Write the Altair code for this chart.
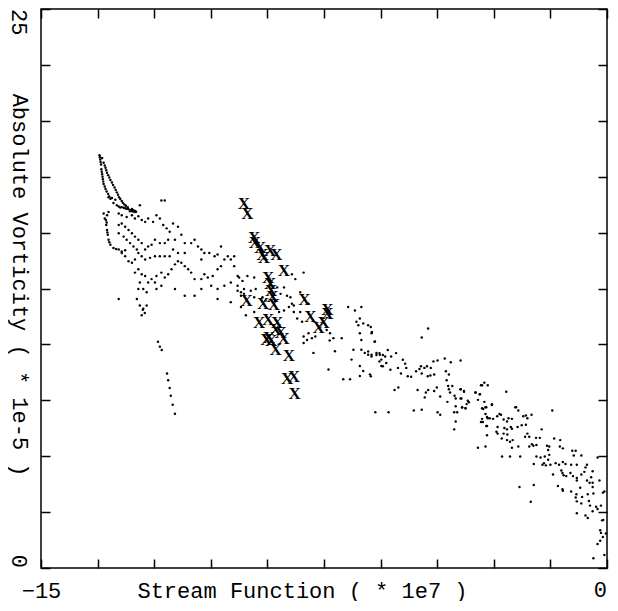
import altair as alt
import pandas as pd

# ---- data (Stream Function *1e7, Absolute Vorticity *1e-5) ----
horn = [(-13.45,18.46),(-13.43,18.27),(-13.41,18.05),(-13.40,17.83),(-13.38,17.61),(-13.36,17.39),
        (-13.34,17.17),(-13.29,16.95),(-13.22,16.73),(-13.16,16.51),(-13.08,16.32),(-12.99,16.22),
        (-12.86,16.14),(-12.73,16.07),(-12.59,16.00),(-12.51,15.97),
        (-13.38,18.34),(-13.34,18.12),(-13.29,17.90),(-13.25,17.68),(-13.19,17.46),(-13.12,17.24),
        (-13.05,17.02),(-12.99,16.80),(-12.93,16.58),(-12.86,16.41),(-12.79,16.26),(-12.70,16.14),
        (-12.59,16.06),(-12.55,16.00),(-12.94,16.17),(-12.81,16.11),(-12.68,16.04),(-12.64,15.95),
        (-12.52,15.92),(-13.21,16.58),(-13.12,16.55),(-13.03,16.47),
        (-13.44,18.37),(-13.42,18.16),(-13.39,17.72),(-13.37,17.50),(-13.35,17.28),(-13.31,17.06),
        (-13.26,16.84),(-13.19,16.62),(-13.31,18.00),(-13.27,17.79),(-13.22,17.57),(-13.16,17.35),
        (-13.09,17.13),(-13.02,16.91),(-12.96,16.69),(-12.90,16.50),(-12.83,16.33),(-12.75,16.20),
        (-12.90,16.12),(-12.77,16.09),(-12.62,16.00),(-12.57,15.94),(-12.48,15.93)]

loop = [(-13.21,15.92),(-13.25,15.78),(-13.28,15.56),(-13.27,15.34),(-13.25,15.12),(-13.23,14.90),
        (-13.21,14.68),(-13.16,14.46),(-13.08,14.31),(-12.94,14.24),(-12.86,14.16),(-12.77,14.21),
        (-13.31,15.63),(-13.34,15.85),(-13.26,15.45),(-13.24,15.01),(-13.19,14.57),(-13.01,14.27)]

left_cloud = [(-12.94,15.85),(-12.86,15.78),(-12.73,15.70),(-12.59,15.78),(-12.51,15.63),(-12.42,15.73),
        (-12.33,15.56),(-12.24,15.48),(-12.16,15.63),(-12.03,15.48),(-11.94,15.78),(-11.85,15.63),
        (-11.76,15.34),(-11.67,15.19),(-11.59,15.04),(-11.50,15.41),(-11.37,15.26),(-11.28,14.90),
        (-11.19,14.53),(-11.45,14.68),(-11.63,14.68),(-11.72,14.53),(-11.85,14.53),(-11.98,14.68),
        (-12.07,14.46),(-12.16,14.38),(-12.24,14.24),(-12.33,14.53),(-12.42,14.68),(-12.51,14.82),
        (-12.59,14.97),(-12.68,15.12),(-12.77,15.26),(-12.86,15.41),(-12.94,15.34),(-12.94,14.97),
        (-12.81,14.82),(-12.73,14.68),(-12.64,14.53),(-12.55,14.38),(-12.46,14.24),(-12.42,14.09),
        (-12.33,13.94),(-12.51,13.80),(-12.59,13.65),(-12.68,13.72),(-12.77,13.94),(-12.86,14.09),
        (-12.24,13.80),(-12.11,13.87),(-11.98,13.94),(-11.85,13.94),(-11.72,13.94),(-11.59,13.94),
        (-11.50,14.24),(-11.37,14.09),(-11.19,14.09),(-11.02,14.53),(-10.93,14.68),(-10.84,14.38),
        (-10.75,14.24),(-10.67,14.09),(-10.54,14.09),(-10.40,13.94),(-10.32,14.02),(-10.23,14.38),
        (-10.14,13.80),(-10.05,13.94),(-10.32,13.36),(-10.23,13.50),(-10.45,13.06),(-10.58,12.99),
        (-10.67,13.14),(-10.75,12.92),(-10.93,12.92),(-11.02,13.21),(-11.10,13.36),(-11.19,13.50),
        (-11.28,13.65),(-11.37,13.72),(-11.45,13.58),(-11.54,13.36),(-11.63,13.14),(-11.72,12.99),
        (-11.81,13.21),(-11.94,13.06),(-12.07,12.92),(-12.16,12.77),(-12.24,13.06),(-12.33,13.14),
        (-12.42,13.36),(-12.51,13.21),(-12.38,12.77),(-12.29,12.48),(-12.20,12.33),(-12.42,12.48),
        (-12.46,12.03),(-12.38,11.74),(-12.29,11.60),(-12.20,11.74),(-12.33,11.30),(-12.94,12.03),
        (-11.98,12.77),(-11.94,12.48),(-11.81,12.62),(-11.45,12.48),(-11.19,12.18),(-10.93,12.18),
        (-10.75,12.48),(-10.49,12.62),(-10.32,12.48),(-10.14,12.62),(-9.97,12.77),(-9.79,12.62),
        (-10.32,12.03),(-9.97,11.89),(-9.70,12.18),(-9.62,12.48),(-9.79,13.06),(-9.88,13.50),
        (-9.97,13.80),(-10.75,13.80),(-11.81,16.44),(-11.72,16.44),(-12.38,16.22),
        (-12.30,11.55),(-12.25,11.40)]

outliers = [(-11.90,10.12),(-11.85,9.90),(-11.80,9.75),(-11.66,8.70),(-11.63,8.40),(-11.59,8.05),
        (-11.56,7.70),(-11.51,7.30),(-11.45,6.90)]

mid_cloud = [(-9.88,13.94),(-9.75,12.99),(-9.66,12.84),(-9.53,13.06),(-9.35,12.99),(-9.79,12.40),
        (-9.70,12.33),(-9.62,12.26),(-9.44,12.40),(-9.31,12.48),(-9.35,12.11),(-9.70,11.67),
        (-9.57,11.30),(-9.35,11.45),(-9.13,12.11),(-9.05,11.96),(-8.65,12.26),(-8.56,12.55),
        (-8.48,12.18),(-8.35,13.14),(-8.26,12.92),(-8.04,13.21),(-8.69,11.45),(-8.56,11.52),
        (-8.43,11.67),(-8.35,11.82),(-8.30,11.45),(-8.21,11.16),(-8.08,11.01),(-8.30,11.74),
        (-8.13,12.33),(-7.91,11.82),(-8.04,10.35),(-7.95,10.20),(-7.82,10.28),(-7.73,10.35),
        (-7.91,10.50),(-7.78,9.62),(-8.04,10.06),(-7.43,10.64),(-7.34,10.50),(-7.35,10.17),
        (-7.25,10.28),(-7.21,9.69),(-7.03,10.28),(-7.38,8.88),(-6.99,8.44),(-6.81,8.44),
        (-6.86,11.67),(-6.68,11.52),(-6.51,11.67),(-6.64,11.01),(-6.55,11.16),(-6.59,10.86),
        (-6.46,10.94),(-6.33,10.86),(-6.24,10.50),(-6.55,10.50),(-6.51,10.20),(-6.15,10.13),
        (-6.72,9.76),(-6.51,9.76),(-6.42,9.62),(-6.33,9.54),(-6.24,9.54),(-6.11,9.62),
        (-6.02,9.54),(-5.98,9.32),(-6.77,9.32),(-6.55,9.03),(-6.46,8.81),(-6.55,8.59),
        (-6.28,8.66),(-5.98,9.03),(-8.74,12.55),(-8.39,12.11),(-8.13,11.45)]

right_cloud = [(-6.26,10.78),(-6.23,10.56),(-6.16,10.12),(-4.74,10.71),(-4.91,10.31),
        (-6.33,9.68),(-6.24,9.46),(-6.11,9.53),(-6.03,9.61),(-5.94,9.53),(-5.88,9.46),(-5.81,9.75),
        (-5.72,9.46),(-5.59,9.61),(-6.03,9.24),(-5.94,9.02),(-5.85,9.17),(-5.74,8.87),(-6.26,8.58),
        (-5.54,8.95),(-5.41,9.31),(-5.35,9.14),(-5.32,8.95),(-5.46,8.70),(-5.28,8.58),(-5.19,8.55),
        (-5.06,8.80),(-4.97,8.90),(-4.93,9.02),(-4.84,8.95),(-4.77,9.02),(-4.67,8.95),(-4.91,8.70),
        (-4.75,8.58),(-4.68,8.61),(-4.58,8.65),(-4.60,9.24),(-4.49,9.28),(-4.30,9.37),(-4.14,9.20),
        (-3.88,9.28),(-4.27,8.80),(-4.19,8.65),(-4.25,8.40),(-5.63,7.96),(-5.53,8.07),(-5.02,7.96),
        (-4.80,7.85),(-4.74,7.96),(-4.83,7.63),(-4.58,7.92),(-4.51,8.07),(-4.42,7.67),(-4.21,8.14),
        (-4.19,7.99),(-4.16,7.85),(-4.10,8.14),(-4.04,7.70),(-4.23,7.43),(-4.01,7.58),(-3.88,7.99),
        (-3.79,7.88),(-3.88,7.58),(-3.72,7.33),(-3.69,7.48),(-4.01,7.23),(-3.84,7.18),(-3.75,7.14),
        (-3.48,7.85),(-3.37,7.77),(-3.31,8.17),(-3.25,8.29),(-3.16,8.17),(-2.67,7.88),(-3.42,7.52),
        (-3.25,7.43),(-3.05,7.32),(-3.31,7.14),(-3.22,7.19),(-6.14,6.97),(-5.79,6.97),(-5.12,7.04),
        (-4.91,7.08),(-4.49,6.97),(-4.42,6.85),(-4.05,6.97),(-4.01,6.55),(-4.05,6.20),(-3.22,6.89),
        (-3.18,6.75),(-3.11,6.70),(-3.31,6.67),(-2.91,6.79),(-2.85,6.89),(-2.74,6.64),(-2.65,6.55),
        (-2.61,6.70),(-2.52,6.67),(-2.43,7.19),(-3.34,6.53),(-3.20,6.35),(-2.90,6.31),(-2.72,6.26),
        (-2.55,6.31),(-2.93,6.09)]

far_right = [(-3.88,7.99),(-3.79,7.92),(-3.86,7.58),(-3.84,7.19),(-3.75,7.14),(-3.66,7.41),(-3.97,6.97),
        (-3.49,7.85),(-3.37,7.77),(-3.34,8.17),(-3.20,7.19),(-3.28,7.11),(-3.05,7.29),(-2.35,7.04),
        (-3.29,6.53),(-3.16,6.70),(-3.02,6.67),(-3.18,6.35),(-2.81,6.85),(-2.41,7.19),(-2.65,6.20),
        (-2.90,6.01),(-2.74,6.01),(-2.64,5.97),(-2.52,6.23),(-2.37,6.31),(-2.26,6.38),(-2.22,6.79),
        (-2.15,6.82),(-2.11,6.70),(-2.00,6.85),(-2.15,6.41),(-3.18,5.94),(-2.79,5.79),(-2.65,5.72),
        (-2.57,5.65),(-2.50,5.72),(-2.52,5.38),(-2.35,5.43),(-2.17,5.87),(-2.11,6.01),(-2.06,5.87),
        (-1.88,5.82),(-1.78,5.82),(-1.73,6.20),(-1.45,7.04),(-1.99,5.53),(-1.95,5.47),(-1.87,5.50),
        (-3.42,5.38),(-3.22,5.43),(-2.06,5.43),(-1.59,5.47),(-1.53,5.43),(-1.56,5.28),(-1.87,4.99),
        (-1.76,4.94),(-1.65,4.99),(-1.53,5.06),(-1.56,4.84),(-1.40,5.79),(-1.24,5.72),(-1.25,5.43),
        (-1.17,5.35),(-0.92,5.24),(-0.83,5.24),(-0.68,5.03),(-0.88,5.03),(-2.78,4.99),(-2.57,4.99),
        (-2.30,4.99),(-1.94,4.65),(-1.71,4.62),(-1.67,4.69),(-1.62,4.59),(-1.50,4.62),(-1.36,4.69),
        (-1.27,4.62),(-1.17,4.74),(-1.10,4.65),(-0.95,4.62),(-0.80,4.62),(-0.53,4.62),(-0.57,4.50),
        (-0.25,4.94),(-1.43,4.18),(-1.21,4.36),(-1.18,4.25),(-1.15,4.15),(-1.08,4.11),(-0.97,4.25),
        (-0.90,4.11),(-0.80,4.03),(-0.68,4.18),(-0.60,4.30),(-0.38,4.33),(-0.80,3.91),(-0.71,3.59),
        (-0.53,3.91),(-0.46,3.81),(-0.42,4.06),(-0.38,3.81),(-0.20,3.91),(-0.38,3.62),(-1.30,3.67),
        (-1.18,3.52),(-1.17,3.45),(-0.95,3.42),(-0.81,3.30),(-0.83,3.15),(-0.66,3.18),(-0.51,3.30),
        (-0.36,3.33),(-0.11,3.37),(-0.07,3.42),(-2.32,3.62),(-1.94,3.71),(-2.02,2.96),(-0.80,2.98),
        (-0.68,2.89),(-0.48,3.00),(-0.45,2.79),(-0.29,2.74),(-0.25,2.64),(-0.16,2.79),(-0.80,2.45),
        (-0.57,2.35),(-0.51,2.24),(-0.38,2.54),(-0.13,2.13),(-0.10,2.15),(-0.18,1.69),(-0.16,1.57),
        (-0.11,1.39),(-0.18,1.22),(-0.25,1.07),(-0.03,1.54),(-0.36,0.44),(-0.07,0.58)]

crosses = [(-9.62,16.29),(-9.53,15.85),(-9.35,14.78),(-9.33,14.55),(-9.19,14.30),(-9.13,14.02),
        (-9.09,13.87),(-8.93,14.16),(-8.76,14.02),(-8.56,13.28),(-8.98,12.99),(-8.93,12.70),
        (-8.90,12.40),(-8.87,12.11),(-8.83,11.74),(-9.55,11.96),(-9.11,11.82),(-8.02,12.00),
        (-7.86,11.23),(-7.41,11.52),(-7.41,11.38),(-7.51,10.96),(-7.64,10.72),(-9.22,10.96),
        (-8.98,11.08),(-8.74,10.94),(-8.78,10.64),(-8.65,10.50),(-8.57,10.23),(-8.96,10.27),
        (-8.90,10.13),(-9.03,10.20),(-8.78,9.76),(-8.43,9.47),(-8.48,8.47),(-8.30,8.56),(-8.28,7.78)]

x_ticks = [-15, -13.5, -12, -10.5, -9, -7.5, -6, -4.5, -3, -1.5, 0]
y_ticks = [0, 2.5, 5, 7.5, 10, 12.5, 15, 17.5, 20, 22.5, 25]
x_title = "Stream Function ( * 1e7 )"
y_title = "Absolute Vorticity ( * 1e-5 )"

# ---- build tables ----
all_dots = horn + loop + left_cloud + outliers + mid_cloud + right_cloud + far_right
df_dots = pd.DataFrame(all_dots, columns=["x", "y"])
df_cross = pd.DataFrame(crosses, columns=["x", "y"])

FONT = "Liberation Mono"
FS = 22
W, H = 566, 559

xs = alt.Scale(domain=[-15, 0], nice=False, zero=False)
ys = alt.Scale(domain=[0, 25], nice=False, zero=False)

tick_common = dict(tickSize=9, offset=-9, domain=False, grid=False,
                   tickColor="black", tickWidth=1.5)

dots = alt.Chart(df_dots).mark_circle(size=6, color="black", opacity=1).encode(
    x=alt.X("x:Q", scale=xs, title=x_title,
            axis=alt.Axis(orient="bottom", values=x_ticks,
                          labelExpr="datum.value == -15 ? datum.label : ''",
                          labelFlush=False,
                          labelPadding=12, labelFont=FONT, labelFontSize=FS, labelColor="black",
                          titleFont=FONT, titleFontSize=FS, titleFontWeight="normal", titleColor="black",
                          titleX=261, titleY=21, titleBaseline="top", titleAlign="center",
                          **tick_common)),
    y=alt.Y("y:Q", scale=ys, title=y_title,
            axis=alt.Axis(orient="left", values=y_ticks, labels=False,
                          titleFont=FONT, titleFontSize=FS, titleFontWeight="normal", titleColor="black",
                          titleAngle=90, titleX=-31, titleY=H * 0.493, titleAlign="center",
                          titleBaseline="middle", **tick_common)),
)

xmarks = alt.Chart(df_cross).mark_text(text="X", font="Liberation Serif", fontWeight="bold",
                                       fontSize=17, color="black", baseline="middle").encode(
    x=alt.X("x:Q", scale=xs, title=None,
            axis=alt.Axis(orient="top", values=x_ticks, labels=False, **tick_common)),
    y=alt.Y("y:Q", scale=ys, title=None,
            axis=alt.Axis(orient="right", values=y_ticks, labels=False, **tick_common)),
)

lab_top = alt.Chart(pd.DataFrame({"v": [25], "t": ["25"]})).mark_text(
    angle=90, align="left", baseline="middle", font=FONT, fontSize=FS, color="black").encode(
    x=alt.value(-22), y=alt.Y("v:Q", scale=ys, axis=None), text="t:N")

lab_bot = alt.Chart(pd.DataFrame({"v": [0], "t": ["0"]})).mark_text(
    angle=90, align="right", baseline="middle", font=FONT, fontSize=FS, color="black").encode(
    x=alt.value(-22), y=alt.Y("v:Q", scale=ys, axis=None), text="t:N")

lab_x0 = alt.Chart(pd.DataFrame({"v": [0], "t": ["0"]})).mark_text(
    align="right", baseline="top", font=FONT, fontSize=FS, color="black").encode(
    x=alt.X("v:Q", scale=xs, axis=None), y=alt.value(H + 12), text="t:N")

chart = alt.layer(dots, xmarks, lab_top, lab_bot, lab_x0).resolve_axis(
    x="independent", y="independent"
).properties(
    width=W, height=H, padding={"left": 0, "top": 0, "right": 2, "bottom": 0}
).configure_view(stroke="black", strokeWidth=1.5)

chart.save("out.html", embed_options={"renderer": "svg", "actions": False})
